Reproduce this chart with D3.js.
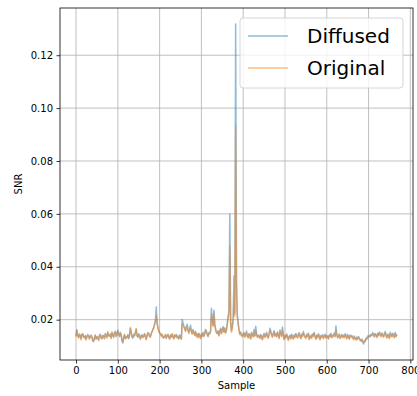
<!DOCTYPE html>
<html>
<head>
<meta charset="utf-8">
<script src="https://cdn.jsdelivr.net/npm/d3@7"></script>
<style>
  body { margin: 0; background: #fff; }
  text { font-family: "DejaVu Sans", sans-serif; fill: #000; }
  .axis path, .axis line { stroke: #000; stroke-width: 0.8px; }
  .axis text { font-size: 10px; }
  .grid line { stroke: #b0b0b0; stroke-width: 0.8px; }
</style>
</head>
<body>
<div id="chart"></div>
<script>

// SNR per sample, read every 2nd sample (0..768)
const sampleStep = 2;

const diffused = [
  0.0138,0.0162,0.0141,0.0133,0.0146,0.0139,0.0128,0.0143,0.0147,0.0136,0.0131,0.0140,0.0127,0.0135,0.0144,0.0138,0.0129,0.0134,0.0142,0.0136,
  0.0121,0.0117,0.0132,0.0140,0.0128,0.0136,0.0131,0.0124,0.0139,0.0145,0.0133,0.0127,0.0141,0.0136,0.0130,0.0148,0.0139,0.0134,0.0151,0.0142,
  0.0137,0.0146,0.0131,0.0153,0.0140,0.0135,0.0149,0.0156,0.0138,0.0144,0.0160,0.0147,0.0136,0.0152,0.0141,0.0119,0.0112,0.0134,0.0142,0.0129,
  0.0136,0.0131,0.0144,0.0128,0.0139,0.0168,0.0152,0.0137,0.0130,0.0145,0.0138,0.0152,0.0164,0.0141,0.0133,0.0147,0.0139,0.0128,0.0136,0.0143,
  0.0132,0.0139,0.0148,0.0135,0.0127,0.0140,0.0151,0.0146,0.0138,0.0134,0.0149,0.0156,0.0162,0.0171,0.0185,0.0198,0.0248,0.0189,0.0168,0.0159,
  0.0151,0.0146,0.0139,0.0143,0.0135,0.0130,0.0137,0.0142,0.0131,0.0138,0.0145,0.0133,0.0128,0.0140,0.0136,0.0147,0.0134,0.0129,0.0141,0.0137,
  0.0144,0.0131,0.0138,0.0127,0.0142,0.0135,0.0128,0.0201,0.0188,0.0176,0.0169,0.0158,0.0174,0.0183,0.0162,0.0151,0.0167,0.0179,0.0157,0.0148,
  0.0163,0.0152,0.0141,0.0156,0.0138,0.0145,0.0134,0.0149,0.0137,0.0131,0.0144,0.0139,0.0152,0.0136,0.0148,0.0163,0.0157,0.0142,0.0138,0.0151,
  0.0146,0.0158,0.0243,0.0197,0.0178,0.0236,0.0184,0.0165,0.0152,0.0147,0.0158,0.0141,0.0156,0.0168,0.0149,0.0162,0.0174,0.0155,0.0169,0.0151,
  0.0163,0.0189,0.0215,0.0233,0.0600,0.0192,0.0158,0.0174,0.0203,0.0366,0.0221,0.1318,0.0342,0.0218,0.0189,0.0162,0.0147,0.0153,0.0141,0.0138,
  0.0145,0.0151,0.0136,0.0142,0.0157,0.0139,0.0133,0.0148,0.0141,0.0129,0.0152,0.0144,0.0137,0.0163,0.0140,0.0175,0.0146,0.0135,0.0142,0.0138,
  0.0131,0.0144,0.0137,0.0126,0.0139,0.0148,0.0135,0.0141,0.0152,0.0138,0.0132,0.0146,0.0168,0.0157,0.0143,0.0136,0.0149,0.0158,0.0140,0.0147,
  0.0137,0.0154,0.0143,0.0131,0.0161,0.0149,0.0138,0.0172,0.0145,0.0127,0.0140,0.0133,0.0146,0.0138,0.0124,0.0136,0.0141,0.0130,0.0145,0.0137,
  0.0129,0.0142,0.0135,0.0148,0.0139,0.0133,0.0144,0.0151,0.0137,0.0130,0.0146,0.0139,0.0155,0.0142,0.0136,0.0131,0.0145,0.0138,0.0149,0.0127,
  0.0135,0.0141,0.0132,0.0146,0.0139,0.0152,0.0137,0.0128,0.0141,0.0134,0.0147,0.0138,0.0126,0.0140,0.0135,0.0143,0.0131,0.0138,0.0145,0.0133,
  0.0140,0.0136,0.0129,0.0143,0.0137,0.0148,0.0134,0.0141,0.0139,0.0150,0.0138,0.0176,0.0145,0.0133,0.0139,0.0146,0.0131,0.0137,0.0144,0.0135,
  0.0141,0.0134,0.0147,0.0139,0.0130,0.0144,0.0137,0.0129,0.0142,0.0136,0.0140,0.0133,0.0127,0.0138,0.0131,0.0125,0.0134,0.0128,0.0136,0.0130,
  0.0124,0.0119,0.0127,0.0115,0.0108,0.0121,0.0117,0.0130,0.0126,0.0138,0.0133,0.0141,0.0136,0.0145,0.0139,0.0151,0.0143,0.0137,0.0148,0.0142,
  0.0135,0.0149,0.0141,0.0153,0.0146,0.0138,0.0150,0.0143,0.0136,0.0147,0.0155,0.0140,0.0133,0.0146,0.0139,0.0131,0.0152,0.0144,0.0137,0.0149,
  0.0141,0.0134,0.0152,0.0138,0.0145
];

const original = [
  0.0135,0.0158,0.0144,0.0130,0.0141,0.0142,0.0124,0.0146,0.0143,0.0133,0.0135,0.0137,0.0122,0.0138,0.0140,0.0141,0.0126,0.0137,0.0139,0.0133,
  0.0118,0.0121,0.0129,0.0143,0.0125,0.0133,0.0134,0.0121,0.0142,0.0141,0.0130,0.0131,0.0138,0.0139,0.0127,0.0145,0.0142,0.0130,0.0155,0.0139,
  0.0140,0.0143,0.0128,0.0149,0.0143,0.0132,0.0152,0.0151,0.0135,0.0147,0.0155,0.0143,0.0139,0.0148,0.0144,0.0123,0.0116,0.0131,0.0145,0.0126,
  0.0133,0.0134,0.0140,0.0131,0.0142,0.0171,0.0149,0.0134,0.0133,0.0141,0.0141,0.0148,0.0167,0.0138,0.0136,0.0143,0.0142,0.0125,0.0139,0.0140,
  0.0135,0.0136,0.0144,0.0138,0.0124,0.0143,0.0147,0.0149,0.0135,0.0137,0.0146,0.0152,0.0165,0.0168,0.0181,0.0192,0.0215,0.0184,0.0171,0.0156,
  0.0148,0.0149,0.0136,0.0146,0.0132,0.0133,0.0134,0.0145,0.0128,0.0141,0.0142,0.0136,0.0125,0.0143,0.0133,0.0144,0.0137,0.0126,0.0144,0.0134,
  0.0141,0.0134,0.0135,0.0130,0.0139,0.0138,0.0125,0.0182,0.0179,0.0170,0.0164,0.0155,0.0166,0.0172,0.0158,0.0148,0.0161,0.0168,0.0154,0.0145,
  0.0158,0.0149,0.0144,0.0152,0.0135,0.0148,0.0131,0.0146,0.0140,0.0128,0.0147,0.0136,0.0149,0.0139,0.0145,0.0160,0.0154,0.0145,0.0135,0.0148,
  0.0149,0.0155,0.0221,0.0190,0.0174,0.0222,0.0179,0.0162,0.0149,0.0150,0.0155,0.0138,0.0153,0.0164,0.0146,0.0159,0.0170,0.0152,0.0165,0.0148,
  0.0160,0.0183,0.0202,0.0219,0.0478,0.0185,0.0152,0.0169,0.0195,0.0290,0.0212,0.0935,0.0298,0.0207,0.0182,0.0158,0.0143,0.0150,0.0138,0.0135,
  0.0142,0.0148,0.0133,0.0145,0.0151,0.0136,0.0130,0.0145,0.0138,0.0126,0.0148,0.0141,0.0134,0.0155,0.0137,0.0158,0.0143,0.0132,0.0139,0.0135,
  0.0128,0.0141,0.0134,0.0123,0.0136,0.0145,0.0132,0.0138,0.0149,0.0135,0.0129,0.0143,0.0159,0.0152,0.0140,0.0133,0.0146,0.0154,0.0137,0.0144,
  0.0134,0.0151,0.0140,0.0128,0.0155,0.0146,0.0135,0.0162,0.0142,0.0124,0.0137,0.0130,0.0143,0.0135,0.0121,0.0133,0.0138,0.0127,0.0142,0.0134,
  0.0126,0.0139,0.0132,0.0145,0.0136,0.0130,0.0141,0.0148,0.0134,0.0127,0.0143,0.0136,0.0150,0.0139,0.0133,0.0128,0.0142,0.0135,0.0146,0.0124,
  0.0132,0.0138,0.0129,0.0143,0.0136,0.0148,0.0134,0.0125,0.0138,0.0131,0.0144,0.0135,0.0123,0.0137,0.0132,0.0140,0.0128,0.0135,0.0142,0.0130,
  0.0137,0.0133,0.0126,0.0140,0.0134,0.0145,0.0131,0.0138,0.0136,0.0146,0.0135,0.0158,0.0142,0.0130,0.0136,0.0143,0.0128,0.0134,0.0141,0.0132,
  0.0138,0.0131,0.0144,0.0136,0.0127,0.0141,0.0134,0.0126,0.0139,0.0133,0.0137,0.0130,0.0124,0.0135,0.0128,0.0122,0.0131,0.0125,0.0133,0.0127,
  0.0121,0.0123,0.0124,0.0119,0.0113,0.0118,0.0121,0.0127,0.0129,0.0135,0.0136,0.0138,0.0139,0.0142,0.0142,0.0147,0.0146,0.0134,0.0145,0.0139,
  0.0132,0.0146,0.0138,0.0149,0.0143,0.0135,0.0146,0.0140,0.0133,0.0144,0.0150,0.0137,0.0130,0.0143,0.0136,0.0128,0.0148,0.0141,0.0134,0.0146,
  0.0138,0.0131,0.0148,0.0135,0.0142
];

const seriesNames = ["Diffused", "Original"];
const seriesColors = ["#1f77b4", "#ff7f0e"];
const xTicks = [0, 100, 200, 300, 400, 500, 600, 700, 800];
const yTicks = [0.02, 0.04, 0.06, 0.08, 0.10, 0.12];

const width = 417;
const height = 396;

const margin = {
    top: 8,
    left: 60,
    right: 4,
    bottom: 36
};

const svg = d3.select("#chart")
    .append("svg")
    .attr("width", width)
    .attr("height", height);

const series = [diffused, original].map(function(vals, k) {
    return {
        name: seriesNames[k],
        color: seriesColors[k],
        points: vals.map(function(v, i) { return { x: i * sampleStep, y: v }; })
    };
});

// matplotlib style 5% padding
const xMax = (diffused.length - 1) * sampleStep;
const xPad = xMax * 0.05;
const allY = diffused.concat(original);
const yMin = d3.min(allY), yMax = d3.max(allY);
const yPad = (yMax - yMin) * 0.05;

const xScale = d3.scaleLinear()
    .domain([-xPad, xMax + xPad])
    .range([margin.left, width - margin.right]);

const yScale = d3.scaleLinear()
    .domain([yMin - yPad, yMax + yPad])
    .range([height - margin.bottom, margin.top]);

// grid
svg.append("g")
    .attr("class", "grid")
    .selectAll("line.gx")
    .data(xTicks)
    .enter()
    .append("line")
        .attr("x1", function(d) { return xScale(d); })
        .attr("x2", function(d) { return xScale(d); })
        .attr("y1", margin.top)
        .attr("y2", height - margin.bottom);

svg.append("g")
    .attr("class", "grid")
    .selectAll("line.gy")
    .data(yTicks)
    .enter()
    .append("line")
        .attr("x1", margin.left)
        .attr("x2", width - margin.right)
        .attr("y1", function(d) { return yScale(d); })
        .attr("y2", function(d) { return yScale(d); });

svg.append("clipPath")
    .attr("id", "plotClip")
    .append("rect")
        .attr("x", margin.left)
        .attr("y", margin.top)
        .attr("width", width - margin.left - margin.right)
        .attr("height", height - margin.top - margin.bottom);

const line = d3.line()
    .x(function(d) { return xScale(d.x); })
    .y(function(d) { return yScale(d.y); });

svg.append("g")
    .attr("clip-path", "url(#plotClip)")
    .selectAll("path")
    .data(series)
    .enter()
    .append("path")
        .attr("d", function(d) { return line(d.points); })
        .attr("fill", "none")
        .attr("stroke", function(d) { return d.color; })
        .attr("stroke-opacity", 0.5)
        .attr("stroke-width", 1.5)
        .attr("stroke-linejoin", "round");

// axes
svg.append("g")
    .attr("class", "axis")
    .attr("transform", `translate(0,${height - margin.bottom})`)
    .call(d3.axisBottom(xScale).tickValues(xTicks).tickSize(3.5).tickPadding(3.5).tickFormat(d3.format("d")))
    .call(function(g) { g.select(".domain").remove(); });

svg.append("g")
    .attr("class", "axis")
    .attr("transform", `translate(${margin.left},0)`)
    .call(d3.axisLeft(yScale).tickValues(yTicks).tickSize(3.5).tickPadding(3.5).tickFormat(d3.format(".2f")))
    .call(function(g) { g.select(".domain").remove(); });

svg.selectAll(".axis text").attr("font-family", null);

svg.append("rect")
    .attr("x", margin.left)
    .attr("y", margin.top)
    .attr("width", width - margin.left - margin.right)
    .attr("height", height - margin.top - margin.bottom)
    .attr("fill", "none")
    .attr("stroke", "#000")
    .attr("stroke-width", 0.8);

svg.append("text")
    .attr("x", (margin.left + width - margin.right) / 2)
    .attr("y", height - 7)
    .attr("text-anchor", "middle")
    .attr("font-size", 10)
    .text("Sample");

svg.append("text")
    .attr("transform", "rotate(-90)")
    .attr("x", -(margin.top + height - margin.bottom) / 2)
    .attr("y", 22)
    .attr("text-anchor", "middle")
    .attr("font-size", 10)
    .text("SNR");

// legend
const legend = svg.append("g")
    .attr("transform", "translate(240,18)");

legend.append("rect")
    .attr("width", 163)
    .attr("height", 70)
    .attr("rx", 3)
    .attr("fill", "#fff")
    .attr("fill-opacity", 0.8)
    .attr("stroke", "#cccccc")
    .attr("stroke-width", 0.8);

const items = legend.selectAll("g.item")
    .data(series)
    .enter()
    .append("g")
        .attr("transform", function(d, i) { return `translate(0,${18 + i * 32})`; });

items.append("line")
    .attr("x1", 8)
    .attr("x2", 48)
    .attr("stroke", function(d) { return d.color; })
    .attr("stroke-opacity", 0.5)
    .attr("stroke-width", 1.5);

items.append("text")
    .attr("x", 67)
    .attr("y", 7)
    .attr("font-size", 20)
    .text(function(d) { return d.name; });

</script>
</body>
</html>
